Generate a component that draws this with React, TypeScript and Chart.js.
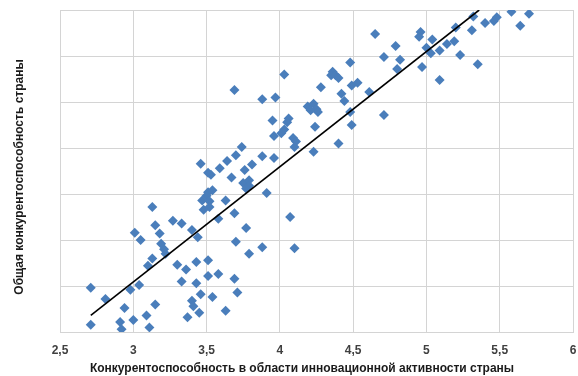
import React, { useEffect, useRef } from "react";
import { Chart, registerables } from "chart.js";

Chart.register(...registerables);

// Конкурентоспособность в области инновационной активности страны (X)
const innovation: number[] = [
  2.71, 2.81, 2.71, 2.91, 2.92, 2.94, 3.0, 3.09, 3.11, 3.15,
  3.04, 2.98, 3.01, 3.05, 3.13, 3.15, 3.18, 3.19, 3.21, 3.22,
  3.1, 3.13, 3.27, 3.33, 3.4, 3.44, 3.3, 3.36, 3.33, 3.43,
  3.43, 3.4, 3.41, 3.46, 3.45, 3.37, 3.54, 3.51, 3.51, 3.58,
  3.63, 3.69, 3.71, 3.7, 3.77, 3.79, 3.88, 3.91, 3.63, 3.58,
  3.69, 3.54, 3.51, 3.5, 3.47, 3.52, 3.48, 3.52, 3.75, 3.79,
  3.79, 3.77, 4.07, 4.1, 3.59, 3.64, 3.46, 3.51, 3.53, 3.67,
  3.76, 3.81, 3.88, 3.96, 3.7, 3.74, 3.69, 3.88, 3.97, 3.95,
  4.03, 4.06, 4.05, 3.96, 4.01, 4.03, 4.09, 4.11, 4.1, 4.19,
  4.23, 4.25, 4.21, 4.26, 4.24, 4.23, 4.28, 4.36, 4.35, 4.38,
  4.4, 4.48, 4.49, 4.53, 4.61, 4.42, 4.44, 4.48, 4.49, 4.4,
  4.65, 4.71, 4.71, 4.79, 4.82, 4.8, 4.96, 4.95, 5.04, 5.0,
  5.03, 5.09, 5.14, 5.19, 4.97, 5.09, 5.23, 5.35, 5.2, 5.31,
  5.32, 5.4, 5.46, 5.48, 5.58, 5.64, 5.7,
];

// Общая конкурентоспособность страны (Y)
const overall: number[] = [
  2.98, 2.86, 2.58, 2.61, 2.53, 2.76, 2.63, 2.68, 2.55, 2.8,
  3.01, 2.96, 3.58, 3.5, 3.86, 3.66, 3.57, 3.46, 3.4, 3.35,
  3.22, 3.3, 3.71, 3.68, 3.61, 3.53, 3.23, 3.18, 3.05, 3.26,
  3.03, 2.84, 2.78, 2.91, 2.71, 2.66, 2.88, 3.28, 3.11, 3.13,
  2.73, 3.08, 2.93, 3.48, 3.63, 3.35, 3.42, 4.01, 3.93, 3.73,
  3.79, 4.04, 4.02, 3.98, 3.93, 3.92, 3.83, 3.86, 4.12, 4.15,
  4.09, 4.06, 3.75, 3.41, 4.28, 4.36, 4.33, 4.23, 4.21, 4.18,
  4.26, 4.32, 4.41, 4.39, 4.42, 4.51, 5.13, 5.03, 5.05, 4.8,
  5.3, 4.82, 4.78, 4.63, 4.66, 4.7, 4.61, 4.57, 4.51, 4.95,
  4.98, 4.92, 4.91, 4.89, 4.73, 4.46, 5.16, 5.33, 5.29, 5.29,
  5.26, 5.43, 5.18, 5.21, 5.11, 5.09, 5.01, 4.89, 4.75, 4.55,
  5.74, 5.49, 4.86, 5.61, 5.46, 5.36, 5.76, 5.71, 5.68, 5.59,
  5.53, 5.56, 5.63, 5.66, 5.38, 5.24, 5.51, 5.41, 5.81, 5.78,
  5.93, 5.86, 5.88, 5.92, 5.98, 5.83, 5.96,
];

// Линейный тренд (концы линии)
const trendX: number[] = [2.71, 5.36];
const trendY: number[] = [2.68, 6.0];

const xTicks: number[] = [2.5, 3, 3.5, 4, 4.5, 5, 5.5, 6];

const xTitle = "Конкурентоспособность в области инновационной активности страны";
const yTitle = "Общая конкурентоспособность страны";

const FONT = "'Liberation Sans', Arial, sans-serif";

// Draws the axis titles at the positions they hold in the original picture
const axisTitlesPlugin = {
  id: "axisTitles",
  afterDraw(chart: any) {
    const { ctx, chartArea } = chart;
    ctx.save();
    ctx.fillStyle = "#1a1a1a";
    ctx.font = `bold 12px ${FONT}`;
    ctx.textAlign = "center";
    ctx.textBaseline = "middle";
    // x title
    ctx.fillText(xTitle, chartArea.left + 242, chart.height - 7);
    // y title
    ctx.translate(20, chartArea.top + 167);
    ctx.rotate(-Math.PI / 2);
    ctx.fillText(yTitle, 0, 0);
    ctx.restore();
  },
};

export default function App() {
  const canvasRef = useRef<HTMLCanvasElement | null>(null);

  useEffect(() => {
    if (!canvasRef.current) return;
    const points = innovation.map((x, i) => ({ x, y: overall[i] }));
    const trend = trendX.map((x, i) => ({ x, y: trendY[i] }));
    const chart = new Chart(canvasRef.current, {
      type: "scatter",
      data: {
        datasets: [
          {
            type: "scatter",
            label: "Страны",
            data: points,
            pointStyle: "rectRot",
            pointRadius: 5,
            pointBackgroundColor: "#4a7ebb",
            pointBorderColor: "#4a7ebb",
            pointBorderWidth: 0,
            order: 1,
          },
          {
            type: "line",
            label: "Линейная",
            data: trend,
            borderColor: "#000000",
            borderWidth: 1.6,
            pointRadius: 0,
            fill: false,
            order: 0,
          },
        ],
      },
      options: {
        animation: false,
        responsive: true,
        maintainAspectRatio: false,
        layout: { padding: { top: 10, right: 4, left: 0, bottom: 0 } },
        plugins: {
          legend: { display: false },
          tooltip: { enabled: false },
        },
        scales: {
          x: {
            type: "linear",
            min: 2.5,
            max: 6,
            afterBuildTicks: (scale: any) => {
              scale.ticks = xTicks.map((v) => ({ value: v }));
            },
            afterFit: (scale: any) => {
              scale.height = 44;
              scale.paddingLeft = 0;
              scale.paddingRight = 0;
            },
            ticks: {
              padding: 11,
              color: "#404040",
              font: { family: FONT, size: 12, weight: "bold" },
              callback: (v: any) => String(v).replace(".", ","),
            },
            grid: { color: "#d4d4d4", drawTicks: false, lineWidth: 1 },
            border: { color: "#d4d4d4" },
            title: { display: false, text: xTitle },
          },
          y: {
            type: "linear",
            min: 2.5,
            max: 6,
            ticks: { display: false, stepSize: 0.5 },
            afterFit: (scale: any) => {
              scale.width = 60;
              scale.paddingTop = 0;
              scale.paddingBottom = 0;
            },
            grid: { color: "#d4d4d4", drawTicks: false, lineWidth: 1 },
            border: { color: "#d4d4d4" },
            title: { display: false, text: yTitle },
          },
        },
      },
      plugins: [axisTitlesPlugin],
    });
    return () => chart.destroy();
  }, []);

  return (
    <div style={{ position: "fixed", left: 0, top: 0, width: 578, height: 376, background: "#fff" }}>
      <canvas ref={canvasRef} />
    </div>
  );
}
